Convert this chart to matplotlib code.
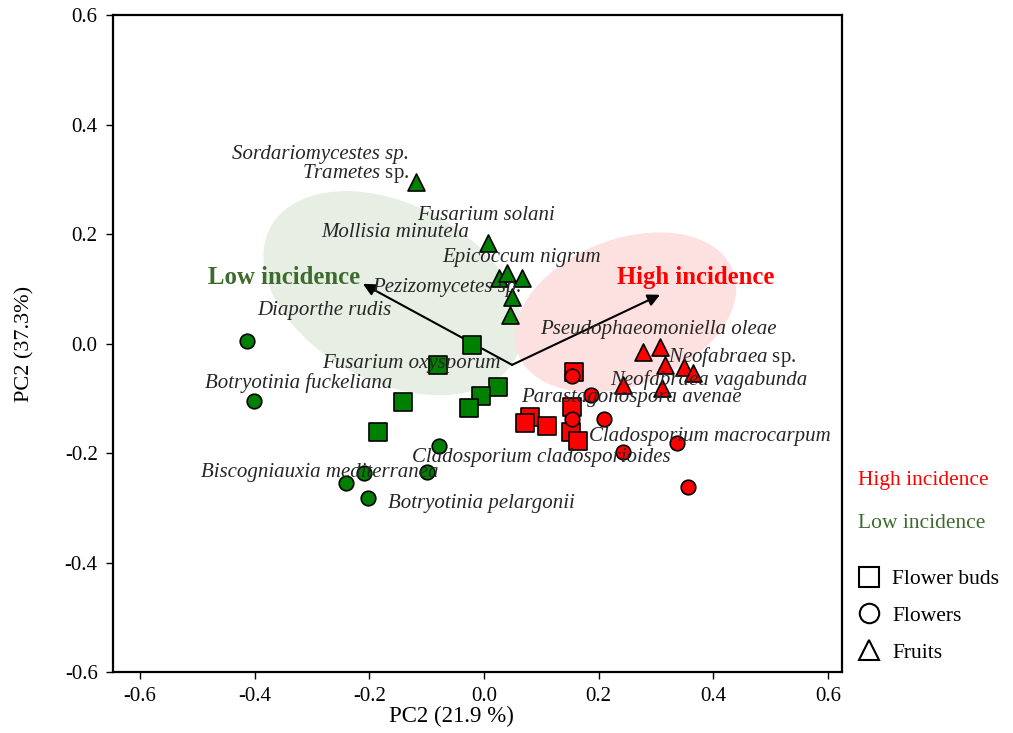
import matplotlib
matplotlib.use("Agg")
import matplotlib.pyplot as plt
from matplotlib.patches import Ellipse
from matplotlib.lines import Line2D

plt.rcParams['font.family'] = ['Liberation Serif', 'DejaVu Serif']
plt.rcParams['mathtext.fontset'] = 'custom'
plt.rcParams['mathtext.rm'] = 'Liberation Serif'
plt.rcParams['mathtext.it'] = 'Liberation Serif:italic'

# PCA scores, low incidence (green)
low_buds_x = [-0.021, -0.080, -0.141, 0.024, -0.005, -0.026, -0.185]
low_buds_y = [-0.003, -0.039, -0.107, -0.079, -0.096, -0.118, -0.162]
low_flowers_x = [-0.413, -0.401, -0.078, -0.209, -0.099, -0.241, -0.202]
low_flowers_y = [0.005, -0.105, -0.187, -0.237, -0.235, -0.255, -0.282]
low_fruits_x = [-0.119, 0.007, 0.026, 0.040, 0.066, 0.049, 0.045]
low_fruits_y = [0.295, 0.184, 0.120, 0.129, 0.120, 0.085, 0.052]

# PCA scores, high incidence (red)
high_buds_x = [0.157, 0.153, 0.080, 0.072, 0.110, 0.152, 0.164]
high_buds_y = [-0.052, -0.116, -0.134, -0.145, -0.151, -0.162, -0.178]
high_flowers_x = [0.153, 0.187, 0.153, 0.209, 0.337, 0.242, 0.356]
high_flowers_y = [-0.059, -0.094, -0.138, -0.138, -0.182, -0.198, -0.262]
high_fruits_x = [0.277, 0.307, 0.316, 0.349, 0.365, 0.242, 0.310]
high_fruits_y = [-0.016, -0.006, -0.039, -0.043, -0.054, -0.076, -0.081]

# supplementary variable arrows
arrow_origin = (0.049, -0.039)
arrow_low = (-0.211, 0.109)
arrow_high = (0.307, 0.089)

# species labels
species = ["Sordariomycestes sp.", r"$\it{Trametes}$ sp.", "Fusarium solani",
           "Mollisia minutela", "Epicoccum nigrum", "Pezizomycetes sp.",
           "Diaporthe rudis", "Fusarium oxysporum", "Botryotinia fuckeliana",
           "Biscogniauxia mediterranea", "Cladosporium cladosporioides",
           "Botryotinia pelargonii", "Pseudophaeomoniella oleae",
           r"$\it{Neofabraea}$ sp.", "Neofabraea vagabunda",
           "Parastagonospora avenae", "Cladosporium macrocarpum"]
species_x = [-0.440, -0.317, -0.117, -0.283, -0.072, -0.195, -0.396, -0.283,
             -0.487, -0.494, -0.126, -0.167, 0.098, 0.321, 0.220, 0.065, 0.183]
species_y = [0.346, 0.311, 0.233, 0.202, 0.158, 0.103, 0.061, -0.036, -0.072,
             -0.235, -0.209, -0.293, 0.026, -0.025, -0.067, -0.098, -0.169]

GREEN = '#008000'
RED = '#ff0000'
DKGREEN = '#3d6b2e'

fig = plt.figure(figsize=(10.13, 7.33), dpi=100)
ax = fig.add_axes([0.1115, 0.0832, 0.7195, 0.8963])

ax.add_patch(Ellipse((-0.159, 0.092), 0.49, 0.32, angle=-31,
                     facecolor='#e7eee4', edgecolor='none', zorder=1))
ax.add_patch(Ellipse((0.247, 0.057), 0.405, 0.265, angle=23.5,
                     facecolor='#fde0e0', edgecolor='none', zorder=1))

for end in (arrow_low, arrow_high):
    ax.annotate('', xy=end, xytext=arrow_origin,
                arrowprops=dict(arrowstyle='-|>', color='black', lw=1.5,
                                mutation_scale=18, shrinkA=0, shrinkB=0),
                zorder=2)

kw = dict(edgecolors='black', linewidths=1.2, zorder=3)
ax.scatter(low_buds_x, low_buds_y, marker='s', s=150, c=GREEN, **kw)
ax.scatter(low_flowers_x, low_flowers_y, marker='o', s=110, c=GREEN, **kw)
ax.scatter(low_fruits_x, low_fruits_y, marker='^', s=150, c=GREEN, **kw)
ax.scatter(high_buds_x, high_buds_y, marker='s', s=150, c=RED, **kw)
ax.scatter(high_flowers_x, high_flowers_y, marker='o', s=110, c=RED, **kw)
ax.scatter(high_fruits_x, high_fruits_y, marker='^', s=150, c=RED, **kw)

for name, x, y in zip(species, species_x, species_y):
    style = 'normal' if name.startswith('$') else 'italic'
    ax.text(x, y, name, fontsize=15, fontstyle=style, color='#262626',
            ha='left', va='center', zorder=4)

ax.text(-0.481, 0.121, 'Low incidence', fontsize=17.8, fontweight='bold',
        color=DKGREEN, ha='left', va='center', zorder=4)
ax.text(0.232, 0.121, 'High incidence', fontsize=17.8, fontweight='bold',
        color=RED, ha='left', va='center', zorder=4)

ax.set_xlim(-0.647, 0.624)
ax.set_ylim(-0.6, 0.6)
ax.set_xticks([-0.6, -0.4, -0.2, 0.0, 0.2, 0.4, 0.6])
ax.set_yticks([-0.6, -0.4, -0.2, 0.0, 0.2, 0.4, 0.6])
ax.xaxis.set_major_formatter(plt.FormatStrFormatter('%.1f'))
ax.yaxis.set_major_formatter(plt.FormatStrFormatter('%.1f'))
ax.tick_params(direction='out', length=5, width=1, labelsize=15, pad=6)
for sp in ax.spines.values():
    sp.set_linewidth(1.6)
ax.set_xlabel('PC2 (21.9 %)', fontsize=16.5)
ax.xaxis.set_label_coords(0.464, -0.051)
ax.set_ylabel('PC2 (37.3%)', fontsize=16, labelpad=22)

fig.text(858 / 1013, 1 - 481 / 733, 'High incidence', fontsize=15.5,
         color=RED, ha='left', va='center')
fig.text(858 / 1013, 1 - 524 / 733, 'Low incidence', fontsize=15.5,
         color=DKGREEN, ha='left', va='center')

handles = [Line2D([], [], marker=m, linestyle='none', markersize=ms,
                  markerfacecolor='none', markeredgecolor='black',
                  markeredgewidth=1.5)
           for m, ms in (('s', 14), ('o', 14), ('^', 14))]
fig.legend(handles, ['Flower buds', 'Flowers', 'Fruits'], loc='upper left',
           bbox_to_anchor=(858 / 1013, 1 - 569 / 733), frameon=False,
           fontsize=15.5, handlelength=1.0, handletextpad=0.6,
           labelspacing=0.78, borderpad=0, borderaxespad=0)

fig.savefig('out.png', dpi=100)
